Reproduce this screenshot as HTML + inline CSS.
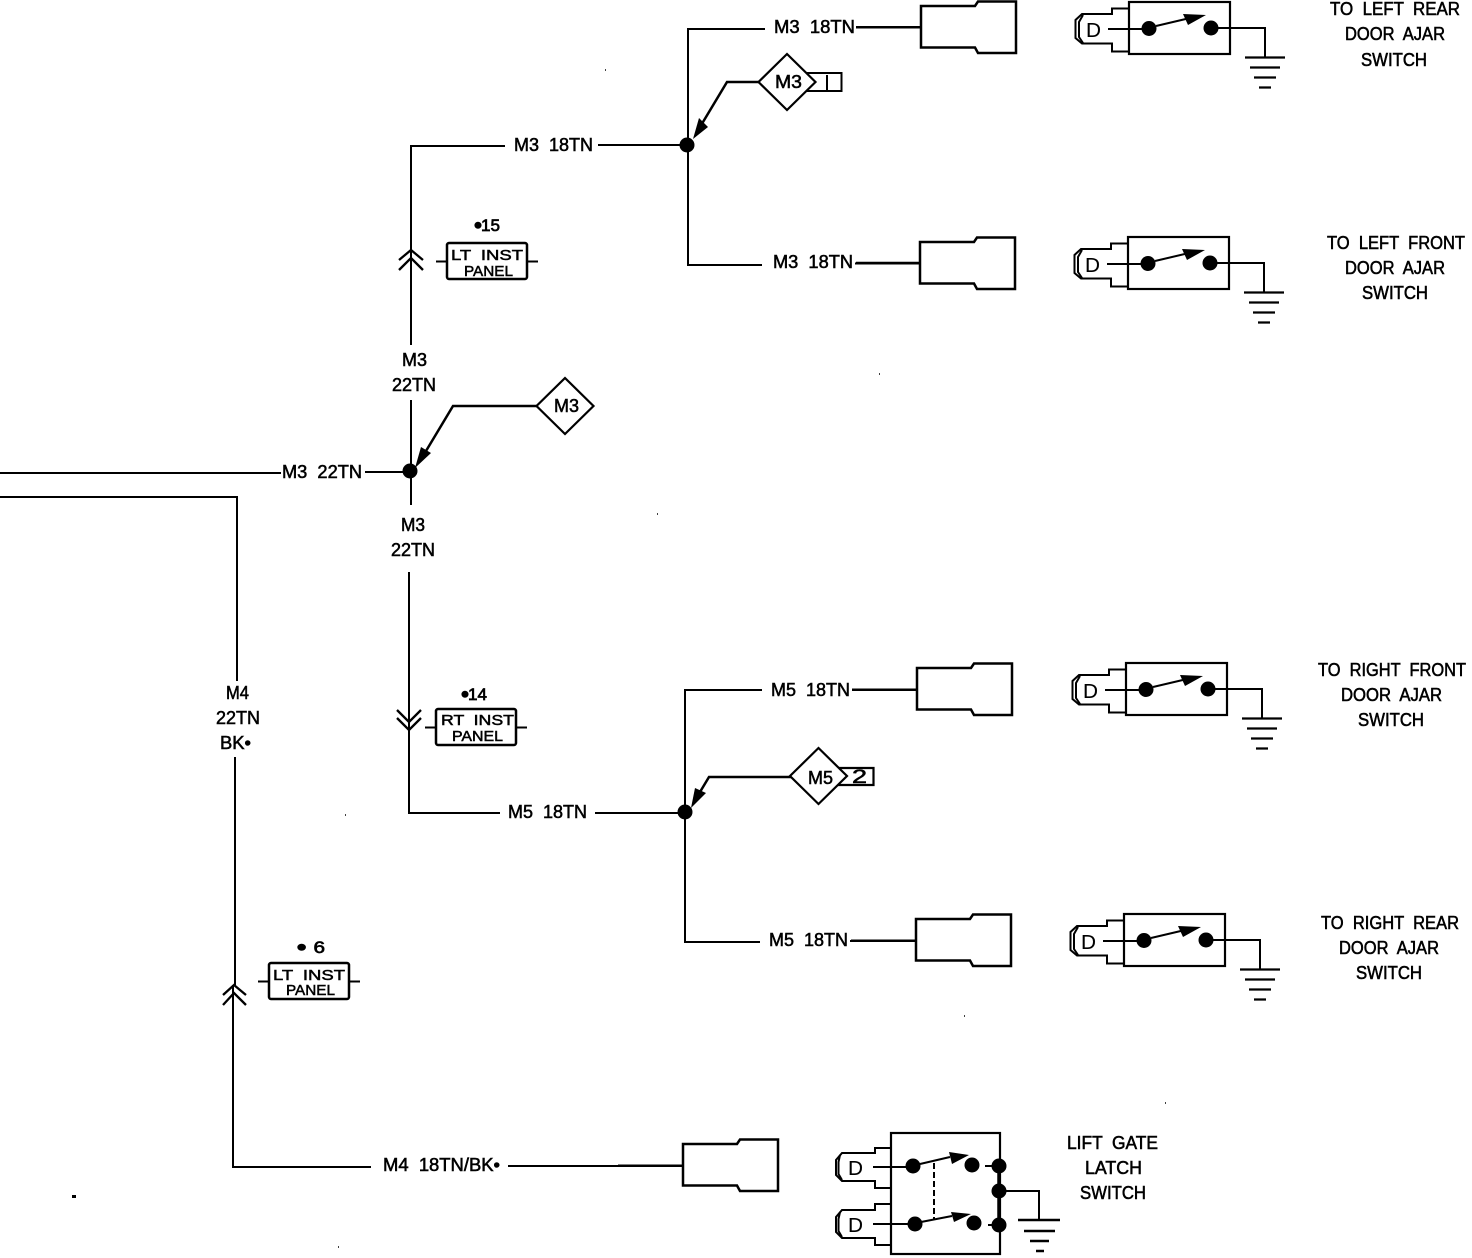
<!DOCTYPE html>
<html><head><meta charset="utf-8"><style>
html,body{margin:0;padding:0;background:#fff}
svg{display:block}
text{font-family:"Liberation Sans",sans-serif;font-size:18px;fill:#000;stroke:#000;stroke-width:.55;text-anchor:start;word-spacing:5px}
.p{font-size:15px;word-spacing:4px;stroke-width:.5}
.n{font-size:17px;word-spacing:2px;stroke-width:.7}
.n tspan{stroke-width:2.500}
.d{font-size:20px;stroke-width:.1}
</style></head><body>
<svg width="1472" height="1258" viewBox="0 0 1472 1258" xmlns="http://www.w3.org/2000/svg">
<defs>
<g id="conn"><path d="M921 47.500V6H975L978 1.500H1016V53H978L975 47.500Z" fill="none" stroke="#000" stroke-width="2.500"/><path d="M856 27.500H921" stroke="#000" stroke-width="2"/></g>
<g id="sw" fill="none" stroke="#000">
<rect x="1129" y="2" width="101" height="52" stroke-width="2.200"/>
<path d="M1129 8.500H1112V14H1082L1075.500 20V38L1082 43.500H1112V51.500H1129" stroke-width="2"/>
<path d="M1083 15L1079 22V37L1083 43" stroke-width="2"/>
<path d="M1108 29H1143M1218 28H1265V57" stroke-width="2"/>
<circle cx="1149" cy="28.500" r="7.500" fill="#000" stroke="none"/><circle cx="1211" cy="28" r="7.500" fill="#000" stroke="none"/>
<path d="M1156 26L1190 18" stroke-width="2"/><path d="M1183 14L1206 15L1188 25Z" fill="#000" stroke="none"/>
<path d="M1245 57.500H1285M1250 67.500H1280M1254 77.500H1276M1259 87.500H1271" stroke-width="2.200"/>
</g>
<g id="pill" fill="none" stroke="#000"><rect x="0" y="0" width="80" height="36" rx="2" stroke-width="2.500"/><path d="M-11 18.500H0M80 18.500H91" stroke-width="2"/></g>
<g id="dia"><path d="M0 -28L28.500 0L0 28L-28.500 0Z" fill="#fff" stroke="#000" stroke-width="2.200"/></g>
</defs>

<g fill="none" stroke="#000" stroke-width="2">
<path d="M0 473H281M365 472H410M0 497H237V681M235 757V985M233 985V1167H371M508 1166H683"/>
<path d="M411 345V146H505M598 145H688M688 145V29H765M856 27H921"/>
<path d="M688 145V265H762"/>
<path d="M411 400V505M409 572V813H500M595 813H685M685 812V690H762M685 812V942H760"/>
<path d="M852 690H917M850 941H916"/>
<path d="M399 260L411 250L423 260M399 270L411 258L423 270" stroke-width="2.300"/>
<path d="M397 710L409 722L421 710M397 718L409 730L421 718" stroke-width="2.300"/>
<path d="M223 995L234 985L246 995M223 1005L234 993L246 1005" stroke-width="2.300"/>
<path d="M759 82H727L697 132M538 406H453L420 461M791 777H709L694 802" stroke-width="2.500"/>
</g>
<path d="M693 139L699 118L708 127Z" fill="#000"/>
<path d="M415 468L421 447L431 453Z" fill="#000"/>
<path d="M691 808L695 788L706 793Z" fill="#000"/>
<circle cx="687" cy="145" r="7.500" fill="#000"/><circle cx="410" cy="471" r="7.500" fill="#000"/><circle cx="685" cy="812" r="7.500" fill="#000"/>
<path d="M856 263H921" stroke="#000" stroke-width="2.500"/>

<use href="#conn"/>
<use href="#conn" transform="translate(-1 236)"/>
<use href="#conn" transform="translate(-4 662)"/>
<use href="#conn" transform="translate(-5 913)"/>
<use href="#conn" transform="translate(-238 1138)"/>

<use href="#sw"/>
<use href="#sw" transform="translate(-1 235)"/>
<use href="#sw" transform="translate(-3 661)"/>
<use href="#sw" transform="translate(-5 912)"/>

<text class="d" x="1086" y="37" textLength="15" lengthAdjust="spacingAndGlyphs">D</text>
<text class="d" x="1085" y="272" textLength="15" lengthAdjust="spacingAndGlyphs">D</text>
<text class="d" x="1083" y="698" textLength="15" lengthAdjust="spacingAndGlyphs">D</text>
<text class="d" x="1081" y="949" textLength="15" lengthAdjust="spacingAndGlyphs">D</text>

<path d="M806 73H841.500V91H806M827 75V90" fill="none" stroke="#000" stroke-width="2"/>
<path d="M836 768H873.500V785H836" fill="none" stroke="#000" stroke-width="2.200"/>
<use href="#dia" transform="translate(787 82)"/>
<use href="#dia" transform="translate(565 406)"/>
<use href="#dia" transform="translate(818.500 776)"/>
<text x="775" y="88" textLength="27" lengthAdjust="spacingAndGlyphs">M3</text>
<text x="554" y="412" textLength="25" lengthAdjust="spacingAndGlyphs">M3</text>
<text x="808" y="784" textLength="25" lengthAdjust="spacingAndGlyphs">M5</text>
<text x="852" y="783" textLength="15" lengthAdjust="spacingAndGlyphs" style="font-size:19px">2</text>

<use href="#pill" transform="translate(447 243)"/>
<use href="#pill" transform="translate(436 709)"/>
<use href="#pill" transform="translate(269 963)"/>
<text class="p" x="451" y="260" textLength="72" lengthAdjust="spacingAndGlyphs">LT INST</text>
<text class="p" x="464" y="276" textLength="49" lengthAdjust="spacingAndGlyphs">PANEL</text>
<text class="p" x="441" y="725" textLength="73" lengthAdjust="spacingAndGlyphs">RT INST</text>
<text class="p" x="452" y="741" textLength="51" lengthAdjust="spacingAndGlyphs">PANEL</text>
<text class="p" x="273" y="980" textLength="72" lengthAdjust="spacingAndGlyphs">LT INST</text>
<text class="p" x="286" y="995" textLength="49" lengthAdjust="spacingAndGlyphs">PANEL</text>
<text class="n" x="475" y="231" textLength="25" lengthAdjust="spacingAndGlyphs"><tspan>•</tspan>15</text>
<text class="n" x="462" y="700" textLength="25" lengthAdjust="spacingAndGlyphs"><tspan>•</tspan>14</text>
<text class="n" x="298" y="953" textLength="27" lengthAdjust="spacingAndGlyphs"><tspan>•</tspan> 6</text>

<text x="774" y="33" textLength="81" lengthAdjust="spacingAndGlyphs">M3 18TN</text>
<text x="514" y="151" textLength="79" lengthAdjust="spacingAndGlyphs">M3 18TN</text>
<text x="773" y="268" textLength="80" lengthAdjust="spacingAndGlyphs">M3 18TN</text>
<text x="402" y="366" textLength="25" lengthAdjust="spacingAndGlyphs">M3</text>
<text x="392" y="391" textLength="44" lengthAdjust="spacingAndGlyphs">22TN</text>
<text x="282" y="478" textLength="80" lengthAdjust="spacingAndGlyphs">M3 22TN</text>
<text x="401" y="531" textLength="24" lengthAdjust="spacingAndGlyphs">M3</text>
<text x="391" y="556" textLength="44" lengthAdjust="spacingAndGlyphs">22TN</text>
<text x="771" y="696" textLength="79" lengthAdjust="spacingAndGlyphs">M5 18TN</text>
<text x="508" y="818" textLength="79" lengthAdjust="spacingAndGlyphs">M5 18TN</text>
<text x="769" y="946" textLength="79" lengthAdjust="spacingAndGlyphs">M5 18TN</text>
<text x="226" y="699" textLength="23" lengthAdjust="spacingAndGlyphs">M4</text>
<text x="216" y="724" textLength="44" lengthAdjust="spacingAndGlyphs">22TN</text>
<text x="220" y="749" textLength="31" lengthAdjust="spacingAndGlyphs">BK•</text>
<text x="383" y="1171" textLength="117" lengthAdjust="spacingAndGlyphs">M4 18TN/BK•</text>

<text x="1330" y="15" textLength="130" lengthAdjust="spacingAndGlyphs">TO LEFT REAR</text>
<text x="1345" y="40" textLength="100" lengthAdjust="spacingAndGlyphs">DOOR AJAR</text>
<text x="1361" y="66" textLength="66" lengthAdjust="spacingAndGlyphs">SWITCH</text>
<text x="1327" y="249" textLength="138" lengthAdjust="spacingAndGlyphs">TO LEFT FRONT</text>
<text x="1345" y="274" textLength="100" lengthAdjust="spacingAndGlyphs">DOOR AJAR</text>
<text x="1362" y="299" textLength="66" lengthAdjust="spacingAndGlyphs">SWITCH</text>
<text x="1318" y="676" textLength="148" lengthAdjust="spacingAndGlyphs">TO RIGHT FRONT</text>
<text x="1341" y="701" textLength="101" lengthAdjust="spacingAndGlyphs">DOOR AJAR</text>
<text x="1358" y="726" textLength="66" lengthAdjust="spacingAndGlyphs">SWITCH</text>
<text x="1321" y="929" textLength="138" lengthAdjust="spacingAndGlyphs">TO RIGHT REAR</text>
<text x="1339" y="954" textLength="100" lengthAdjust="spacingAndGlyphs">DOOR AJAR</text>
<text x="1356" y="979" textLength="66" lengthAdjust="spacingAndGlyphs">SWITCH</text>
<text x="1067" y="1149" textLength="91" lengthAdjust="spacingAndGlyphs">LIFT GATE</text>
<text x="1085" y="1174" textLength="57" lengthAdjust="spacingAndGlyphs">LATCH</text>
<text x="1080" y="1199" textLength="66" lengthAdjust="spacingAndGlyphs">SWITCH</text>

<g fill="none" stroke="#000" stroke-width="2">
<rect x="891" y="1133" width="109" height="121" stroke-width="2.200"/>
<path d="M891 1148H875V1153H842L836 1160V1175L842 1181H875V1188H891"/>
<path d="M891 1204H875V1210H842L836 1217V1232L842 1238H875V1245H891"/>
<path d="M840 1155L838.500 1162V1174L842 1180M840 1212L838.500 1219V1231L842 1237"/>
<path d="M873 1167H913M873 1224H914M920 1164L950 1157M921 1222L952 1216M985 1166H999M988 1225H999M1000 1191H1039V1220"/>
<path d="M934 1163V1219" stroke-dasharray="6 3"/>
<path d="M999 1166V1225" stroke-width="3.500"/>
<path d="M1018 1220H1060M1024 1231H1055M1030 1241H1049M1036 1251H1044" stroke-width="2.500"/>
</g>
<path d="M949 1152L969 1155L952 1164Z M951 1212L971 1214L954 1222Z" fill="#000"/>
<circle cx="913" cy="1166" r="7.500" fill="#000"/><circle cx="915" cy="1224" r="7.500" fill="#000"/>
<circle cx="972" cy="1165" r="7.500" fill="#000"/><circle cx="974" cy="1223" r="7.500" fill="#000"/>
<circle cx="999" cy="1166" r="7.500" fill="#000"/><circle cx="999" cy="1191" r="7.500" fill="#000"/><circle cx="999" cy="1225" r="7.500" fill="#000"/>
<text class="d" x="848" y="1175" textLength="15" lengthAdjust="spacingAndGlyphs">D</text>
<text class="d" x="848" y="1232" textLength="15" lengthAdjust="spacingAndGlyphs">D</text>
<rect x="72" y="1195" width="4" height="3" fill="#000"/>
<path d="M605 70h1M879 374h1M657 514h1M345 815h1M964 1016h1M1165 1103h1M338 1247h1" stroke="#000" stroke-width="1.500"/>
</svg>
</body></html>
